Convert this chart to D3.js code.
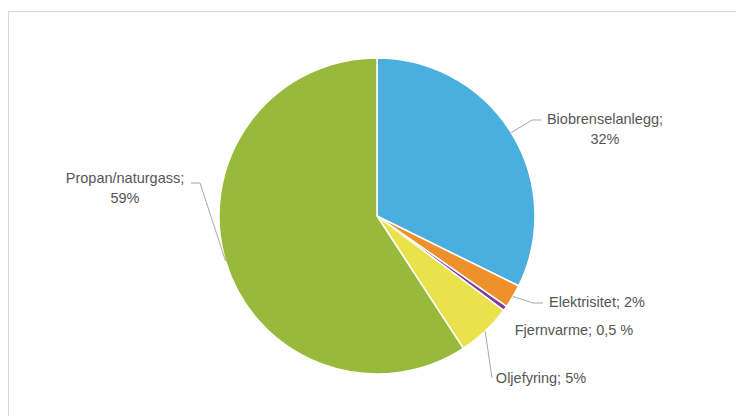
<!DOCTYPE html>
<html>
<head>
<meta charset="utf-8">
<script src="https://cdn.jsdelivr.net/npm/d3@7"></script>
<style>
  body { margin: 0; background: #fff; }
  text { font-family: "Liberation Sans", Arial, sans-serif; fill: #555; }
</style>
</head>
<body>
<div id="chart"></div>
<script>
// data
var categories = ["Biobrenselanlegg", "Elektrisitet", "Fjernvarme", "Oljefyring", "Propan/naturgass"];
var shares = [32.3, 2.4, 0.5, 5.6, 59.2];
var labelLines = [["Biobrenselanlegg;", "32%"], ["Elektrisitet; 2%"], ["Fjernvarme; 0,5 %"], ["Oljefyring; 5%"], ["Propan/naturgass;", "59%"]];
var colors = ["#4aaedf", "#ee902b", "#7b3f9c", "#e9e24b", "#97ba3d"];

var width = 736, height = 416;
var cx = 377, cy = 216, radius = 158;

var svg = d3.select("#chart").append("svg")
  .attr("width", width)
  .attr("height", height);

// chart frame
svg.append("rect")
  .attr("x", 8.5).attr("y", 11.5)
  .attr("width", 760).attr("height", 420)
  .attr("fill", "#fff")
  .attr("stroke", "#d9d9d9");

var g = svg.append("g")
  .attr("transform", `translate(${cx}, ${cy})`);

var pie = d3.pie().sort(null).value(d => d);
var arcs = pie(shares);
var arc = d3.arc().innerRadius(0).outerRadius(radius);

g.selectAll("path")
  .data(arcs)
  .enter()
  .append("path")
  .attr("d", arc)
  .attr("fill", (d, i) => colors[i])
  .attr("stroke", "#fff")
  .attr("stroke-width", 1.5);

// label placement (offsets from centre), elbow and whether to draw a leader
var layout = [
  {x: 228, y: -97, elbow: [[155, -96], [164, -96]]},
  {x: 220, y: 86, elbow: [[156, 87], [166, 87]]},
  {x: 197, y: 114, elbow: null},
  {x: 164, y: 162, elbow: [[115, 162]]},
  {x: -252, y: -38, elbow: [[-177, -33], [-186, -33]]}
];

function edgePoint(d) {
  var a = (d.startAngle + d.endAngle) / 2;
  return [Math.sin(a) * radius, -Math.cos(a) * radius];
}

arcs.forEach(function(d, i) {
  var l = layout[i];
  if (l.elbow) {
    var pts = [edgePoint(d)].concat(l.elbow);
    g.append("path")
      .attr("d", d3.line()(pts))
      .attr("fill", "none")
      .attr("stroke", "#a6a6a6")
      .attr("stroke-width", 1);
  }
  var t = g.append("text")
    .attr("x", l.x)
    .attr("y", l.y)
    .attr("text-anchor", "middle")
    .attr("font-size", "14.5px");
  labelLines[i].forEach(function(s, j) {
    t.append("tspan")
      .attr("x", l.x)
      .attr("dy", j === 0 ? "0.35em" : "1.35em")
      .text(s);
  });
});
</script>
</body>
</html>
